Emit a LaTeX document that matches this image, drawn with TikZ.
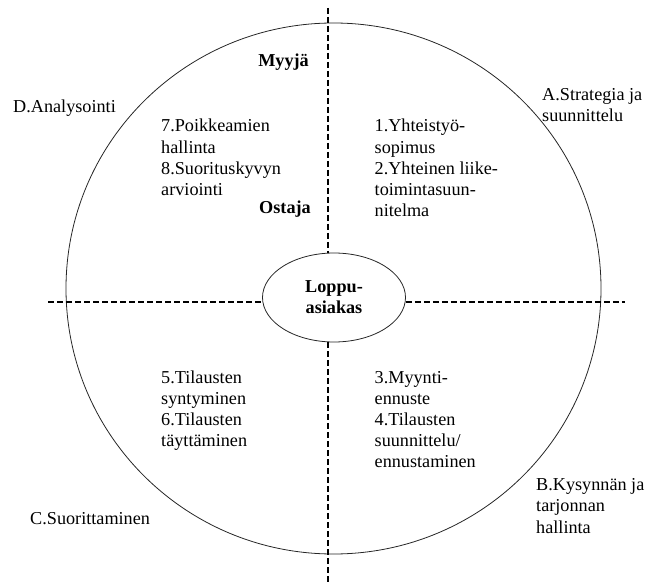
\documentclass[tikz,border=0pt]{standalone}
\usepackage{fontspec}
\setmainfont{Liberation Serif}
\usetikzlibrary{positioning,shapes.geometric}

\begin{document}
\begin{tikzpicture}[
    x=1pt, y=-1pt,
    font=\fontsize{18.2}{21.2}\selectfont,
    txt/.style={anchor=base west, align=left, inner sep=0pt},
    role/.style={anchor=base east, inner sep=0pt, font=\fontsize{18.2}{21.2}\selectfont\bfseries},
    ring/.style={ellipse, draw=black!85, line width=0.8pt, inner sep=0pt},
    sep/.style={draw=black, line width=1.4pt, dash pattern=on 6pt off 3pt},
  ]
    \useasboundingbox (0,0) rectangle (645,585);

    % outer ring and the customer in the middle
    \node[ring, minimum width=535pt, minimum height=531pt] (outer) at (333.5,288.5) {};
    \node[ring, minimum width=143pt, minimum height=89pt, align=center,
          font=\fontsize{18.2}{21.2}\selectfont\bfseries] (loppu) at (334,297.5) {Loppu-\\asiakas};

    % quadrant borders
    \coordinate (vtop) at (328,8);
    \coordinate (vbot) at (328,585);
    \coordinate (hleft) at (48,302);
    \coordinate (hright) at (625,302);
    \draw[sep] (vtop) -- (vtop |- loppu.north);
    \draw[sep] (vbot |- loppu.south) -- (vbot);
    \draw[sep] (hleft) -- (hleft -| loppu.west);
    \draw[sep] (loppu.east |- hright) -- (hright);

    \node[role] (myyja)  at (309,67)  {Myyjä};
    \node[role] (ostaja) at (311,214) {Ostaja};

    % phases outside the ring (anchored on the last line)
    \node[txt] (anal)  at (13,113)  {D.Analysointi};
    \node[txt] (strat) at (542,122) {A.Strategia ja\\suunnittelu};
    \node[txt] (kysy)  at (536,533) {B.Kysynnän ja\\tarjonnan\\hallinta};
    \node[txt] (suor)  at (30,524)  {C.Suorittaminen};

    % steps inside the quadrants
    \node[txt] (s78) at (161,195.6)   {7.Poikkeamien\\hallinta\\8.Suorituskyvyn\\arviointi};
    \node[txt] (s12) at (374.5,216.8) {1.Yhteistyö-\\sopimus\\2.Yhteinen liike-\\toimintasuun-\\nitelma};
    \node[txt] (s56) at (161,446.6)   {5.Tilausten\\syntyminen\\6.Tilausten\\täyttäminen};
    \node[txt] (s34) at (374.5,467.8) {3.Myynti-\\ennuste\\4.Tilausten\\suunnittelu/\\ennustaminen};
  \end{tikzpicture}
\end{document}
